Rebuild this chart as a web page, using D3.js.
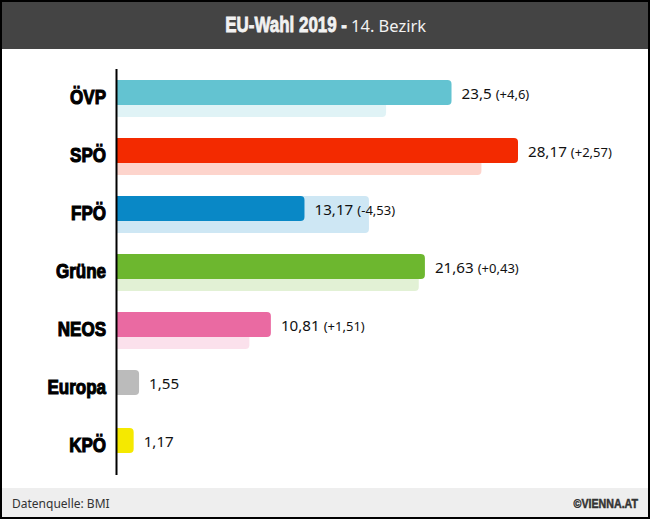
<!DOCTYPE html>
<html>
<head>
<meta charset="utf-8">
<script src="https://cdn.jsdelivr.net/npm/d3@7"></script>
<style>
    html, body { margin: 0; padding: 0; background: #fff; }
    svg { display: block; }
    .heavy { font-family: "Liberation Sans", sans-serif; font-weight: 700; }
    .body { font-family: "Noto Sans", sans-serif; }
</style>
</head>
<body>
<div id="chart"></div>
<script>
const parties = ["ÖVP", "SPÖ", "FPÖ", "Grüne", "NEOS", "Europa", "KPÖ"];
const result2019 = [23.5, 28.17, 13.17, 21.63, 10.81, 1.55, 1.17];
const result2014 = [18.9, 25.6, 17.7, 21.2, 9.3, null, null];
const valueLabels = ["23,5", "28,17", "13,17", "21,63", "10,81", "1,55", "1,17"];
const changeLabels = ["(+4,6)", "(+2,57)", "(-4,53)", "(+0,43)", "(+1,51)", "", ""];
const partyColors = ["#63c3d1", "#f32a00", "#0988c6", "#6db72f", "#ea6aa2", "#bbbbbb", "#f5e900"];

const width = 650, height = 519;

const x = d3.scaleLinear().domain([0, 28.17]).range([117, 518]);
const y = d3.scaleBand().domain(parties).range([70, 476]);

const svg = d3.select("#chart").append("svg")
    .attr("width", width)
    .attr("height", height);

svg.append("rect").attr("width", width).attr("height", height).attr("fill", "#000");
svg.append("rect").attr("x", 2).attr("y", 2).attr("width", 646).attr("height", 515).attr("fill", "#fff");

// header
svg.append("rect").attr("x", 2).attr("y", 2).attr("width", 646).attr("height", 47).attr("fill", "#444");
svg.append("text").attr("class", "heavy")
    .attr("transform", "translate(347,32) scale(0.77,1)")
    .attr("text-anchor", "end")
    .attr("font-size", 22)
    .attr("fill", "#f2f2f2")
    .attr("stroke", "#f2f2f2").attr("stroke-width", 0.8)
    .text("EU-Wahl 2019 -");
svg.append("text").attr("class", "body")
    .attr("x", 351).attr("y", 32)
    .attr("font-size", 16.5)
    .attr("fill", "#f2f2f2")
    .text("14. Bezirk");

// only the right corners are rounded
const barPath = (x0, x1, top, h, r) =>
    `M${x0},${top}H${x1 - r}Q${x1},${top} ${x1},${top + r}V${top + h - r}Q${x1},${top + h} ${x1 - r},${top + h}H${x0}Z`;

const rows = parties.map((name, i) => ({
    name, now: result2019[i], before: result2014[i],
    value: valueLabels[i], change: changeLabels[i], color: partyColors[i]
}));

svg.append("g").selectAll("path")
    .data(rows.filter(d => d.before !== null))
    .join("path")
    .attr("fill", d => d.color)
    .attr("fill-opacity", 0.2)
    .attr("d", d => barPath(x(0), x(d.before), y(d.name) + 10, 37, 4));

svg.append("g").selectAll("path")
    .data(rows)
    .join("path")
    .attr("fill", d => d.color)
    .attr("d", d => barPath(x(0), x(d.now), y(d.name) + 10, 25, 4));

const labels = svg.append("g").selectAll("text")
    .data(rows)
    .join("text")
    .attr("class", "body")
    .attr("x", d => x(d.now) + 10)
    .attr("y", d => y(d.name) + 29)
    .attr("fill", "#111");
labels.append("tspan").attr("font-size", 15.2).text(d => d.value);
labels.append("tspan").attr("font-size", 13).attr("dx", 4).text(d => d.change);

// party names
const axis = svg.append("g")
    .attr("transform", "translate(106,0)")
    .call(d3.axisLeft(y).tickSize(0).tickPadding(0));
axis.select(".domain").remove();
axis.selectAll("text")
    .attr("class", "heavy")
    .attr("font-size", 20.5)
    .attr("fill", "#000")
    .attr("stroke", "#000")
    .attr("stroke-width", 1.1)
    .attr("x", 0)
    .attr("dy", 5)
    .attr("transform", "scale(0.83,1)");

svg.append("line")
    .attr("x1", 116.5).attr("x2", 116.5)
    .attr("y1", 69).attr("y2", 475)
    .attr("stroke", "#000").attr("stroke-width", 2);

// footer
svg.append("rect").attr("x", 2).attr("y", 488).attr("width", 646).attr("height", 29).attr("fill", "#eee");
svg.append("text").attr("class", "body")
    .attr("x", 12).attr("y", 508)
    .attr("font-size", 12).attr("fill", "#333")
    .text("Datenquelle: BMI");
svg.append("text").attr("class", "heavy")
    .attr("transform", "translate(638,508) scale(0.82,1)")
    .attr("text-anchor", "end")
    .attr("font-size", 13).attr("fill", "#333")
    .attr("stroke", "#333").attr("stroke-width", 0.5)
    .text("©VIENNA.AT");
</script>
</body>
</html>
